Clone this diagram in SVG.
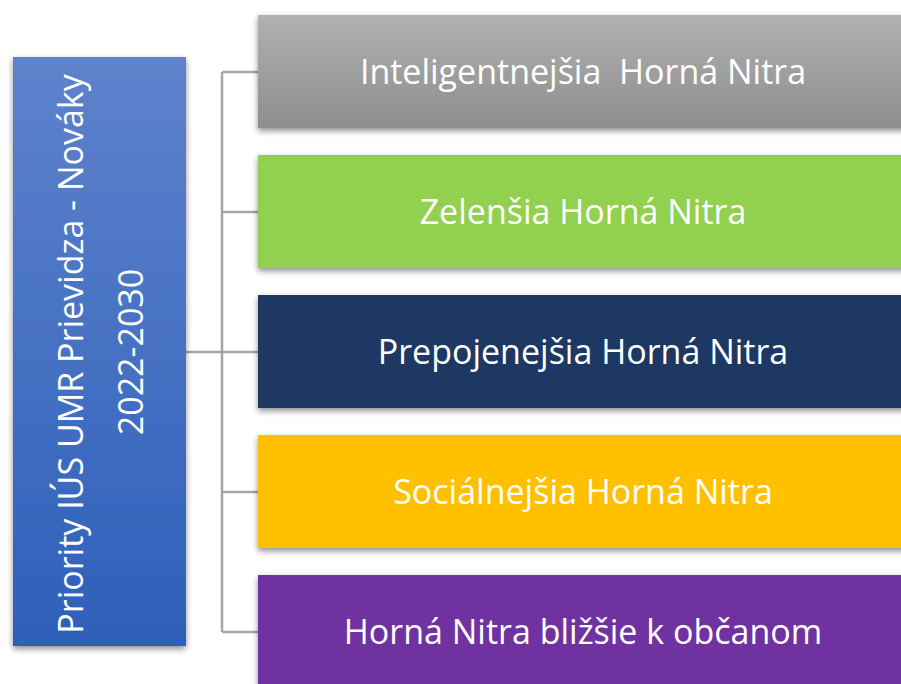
<svg xmlns="http://www.w3.org/2000/svg" width="901" height="684" viewBox="0 0 901 684">
<defs>
<linearGradient id="gBlue" x1="0" y1="0" x2="0" y2="1"><stop offset="0" stop-color="#5f82cc"/><stop offset="1" stop-color="#2d60ba"/></linearGradient>
<linearGradient id="gGray" x1="0" y1="0" x2="0" y2="1"><stop offset="0" stop-color="#b0b0b0"/><stop offset="1" stop-color="#8e8e8e"/></linearGradient>
<filter id="sh" x="-10%" y="-10%" width="130%" height="130%"><feGaussianBlur in="SourceAlpha" stdDeviation="3"/><feOffset dx="0" dy="3"/><feComponentTransfer><feFuncA type="linear" slope="0.45"/></feComponentTransfer><feMerge><feMergeNode/><feMergeNode in="SourceGraphic"/></feMerge></filter>
<style>
.t{font-family:"Open Sans","Liberation Sans",sans-serif;font-size:34px;fill:#ffffff;text-anchor:middle;white-space:pre;}
.c{fill:none;stroke:#a6a6a6;stroke-width:2.5;}
</style>
</defs>
<rect width="901" height="684" fill="#ffffff"/>
<g id="connectors">
<path class="c" d="M186 352H222M222 72V632M222 72H258M222 212H258M222 352H258M222 492H258M222 632H258"/>
</g>
<g id="root">
<rect x="13" y="57" width="173" height="589" fill="url(#gBlue)" filter="url(#sh)"/>
<text class="t" transform="translate(83 354) rotate(-90)">Priority IÚS UMR Prievidza - Nováky</text>
<text class="t" transform="translate(143 352) rotate(-90)">2022-2030</text>
</g>
<g id="n1">
<rect x="258" y="15" width="660" height="113" fill="url(#gGray)" filter="url(#sh)"/>
<text class="t" x="583" y="84" xml:space="preserve">Inteligentnejšia  Horná Nitra</text>
</g>
<g id="n2">
<rect x="258" y="155" width="660" height="113" fill="#92d050" filter="url(#sh)"/>
<text class="t" x="583" y="224">Zelenšia Horná Nitra</text>
</g>
<g id="n3">
<rect x="258" y="295" width="660" height="113" fill="#1f3864" filter="url(#sh)"/>
<text class="t" x="583" y="364">Prepojenejšia Horná Nitra</text>
</g>
<g id="n4">
<rect x="258" y="435" width="660" height="113" fill="#ffc000" filter="url(#sh)"/>
<text class="t" x="583" y="504">Sociálnejšia Horná Nitra</text>
</g>
<g id="n5">
<rect x="258" y="575" width="660" height="120" fill="#7030a0" filter="url(#sh)"/>
<text class="t" x="583" y="644">Horná Nitra bližšie k občanom</text>
</g>
</svg>
